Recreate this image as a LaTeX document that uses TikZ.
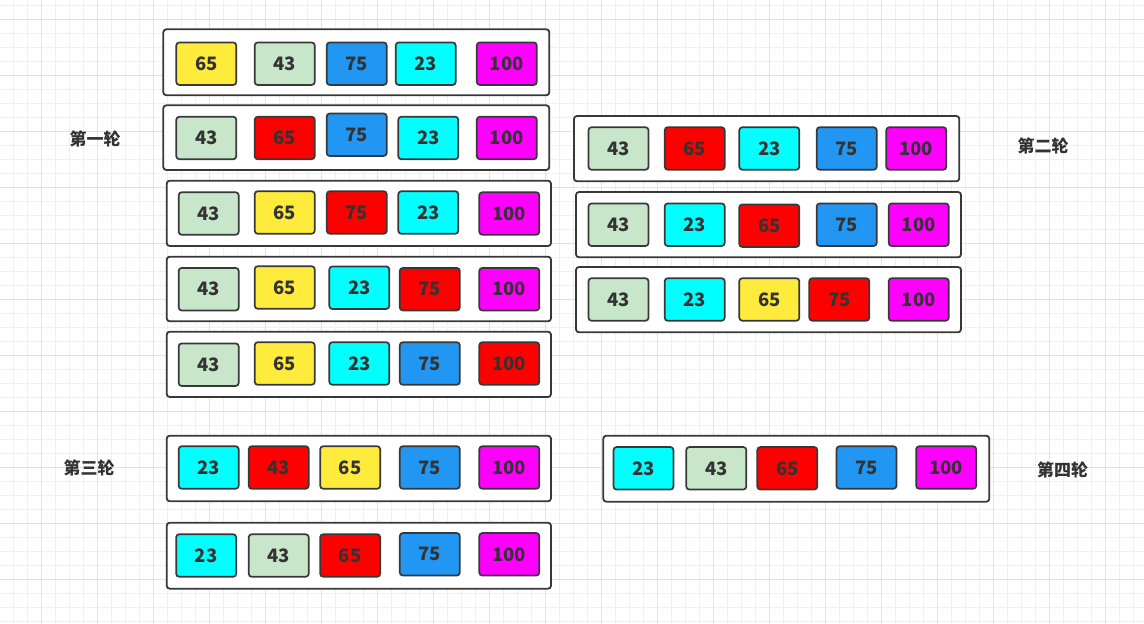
\documentclass[tikz,border=0pt]{standalone}
\usepackage{fontspec}
\setmainfont{Noto Sans CJK SC}
\usepackage{tikz}

\definecolor{cyel}{HTML}{FFEB3B}
\definecolor{cgreen}{HTML}{C8E6C9}
\definecolor{cblue}{HTML}{2196F3}
\definecolor{ccyan}{HTML}{00FFFF}
\definecolor{cmag}{HTML}{FF00FF}
\definecolor{cred}{HTML}{FF0000}
\definecolor{linec}{HTML}{383838}
\definecolor{textc}{HTML}{333333}
\definecolor{gridminor}{HTML}{F0F0F0}
\definecolor{gridmajor}{HTML}{E2E2E2}

\begin{document}
\begin{tikzpicture}[x=1pt, y=-1pt,
		cell/.style={draw=linec, line width=1.7pt, rounded corners=3pt, minimum width=60pt, minimum height=42.5pt, inner sep=0pt, text=textc, font=\fontsize{18.5}{18.5}\selectfont\bfseries},
		rowbox/.style={draw=linec, line width=1.8pt, fill=white, rounded corners=3pt},
		lbl/.style={text=textc, font=\fontsize{17}{17}\selectfont\bfseries}]
	\useasboundingbox (0,0) rectangle (1144,624);
	\fill[white] (0,0) rectangle (1144,624);
	% grid
	\foreach \i in {1,...,81}
		\draw[gridminor, line width=1pt] ({14*\i-0.3},0) -- ++(0,624);
	\foreach \i in {0,...,44}
		\draw[gridminor, line width=1pt] (0,{14*\i+5.3}) -- ++(1144,0);
	\foreach \i in {0,...,19}
		\draw[gridmajor, line width=1pt] ({56*\i+41.7},0) -- ++(0,624);
	\foreach \i in {0,...,10}
		\draw[gridmajor, line width=1pt] (0,{56*\i+19.3}) -- ++(1144,0);

	% first round
	\draw[rowbox] (163.3,29.3) rectangle (549.3,95.3);
	\draw[rowbox] (163.3,105.3) rectangle (549.3,170);
	\draw[rowbox] (166.7,180.7) rectangle (551,246);
	\draw[rowbox] (166.7,256.7) rectangle (551,321.3);
	\draw[rowbox] (166.7,331.7) rectangle (551,397);
	\foreach \x/\y/\c/\v [count=\k] in {206.3/63.7/cyel/65, 284.7/63.7/cgreen/43, 356.7/63.7/cblue/75, 425.7/63.7/ccyan/23, 506.8/63.7/cmag/100}
		\node[cell, fill=\c] (r1c\k) at (\x,\y) {\v};
	\foreach \x/\y/\c/\v [count=\k] in {206.3/138/cgreen/43, 284.7/138/cred/65, 356.7/134.7/cblue/75, 428.3/138/ccyan/23, 506.8/138/cmag/100}
		\node[cell, fill=\c] (r2c\k) at (\x,\y) {\v};
	\foreach \x/\y/\c/\v [count=\k] in {208.7/213.5/cgreen/43, 284.7/212.5/cyel/65, 356.8/212.5/cred/75, 428.3/212.5/ccyan/23, 509.3/213.5/cmag/100}
		\node[cell, fill=\c] (r3c\k) at (\x,\y) {\v};
	\foreach \x/\y/\c/\v [count=\k] in {208.7/289.2/cgreen/43, 284.7/287.5/cyel/65, 359.3/287.7/ccyan/23, 429.8/289.2/cred/75, 509.3/289.2/cmag/100}
		\node[cell, fill=\c] (r4c\k) at (\x,\y) {\v};
	\foreach \x/\y/\c/\v [count=\k] in {208.7/364.7/cgreen/43, 284.7/363.5/cyel/65, 359.3/363.5/ccyan/23, 429.8/363.5/cblue/75, 509.3/363.5/cred/100}
		\node[cell, fill=\c] (r5c\k) at (\x,\y) {\v};
	\node[lbl] (round1) at (95,139.3) {第一轮};

	% second round
	\draw[rowbox] (574,116) rectangle (959.3,181.3);
	\draw[rowbox] (576,192) rectangle (961,257.3);
	\draw[rowbox] (576,267) rectangle (961,332.3);
	\foreach \x/\y/\c/\v [count=\k] in {618.5/148.5/cgreen/43, 694.7/148.5/cred/65, 769.3/148.5/ccyan/23, 846.7/148.5/cblue/75, 916.3/148.5/cmag/100}
		\node[cell, fill=\c] (s1c\k) at (\x,\y) {\v};
	\foreach \x/\y/\c/\v [count=\k] in {618.5/224.7/cgreen/43, 694.7/224.7/ccyan/23, 769.3/225.7/cred/65, 846.7/224.7/cblue/75, 918.7/224.7/cmag/100}
		\node[cell, fill=\c] (s2c\k) at (\x,\y) {\v};
	\foreach \x/\y/\c/\v [count=\k] in {618.5/299.5/cgreen/43, 694.7/299.5/ccyan/23, 769.3/299.5/cyel/65, 839.3/299.5/cred/75, 918.7/299.5/cmag/100}
		\node[cell, fill=\c] (s3c\k) at (\x,\y) {\v};
	\node[lbl] (round2) at (1043,146) {第二轮};

	% third round
	\draw[rowbox] (166.7,435.7) rectangle (551,501.3);
	\draw[rowbox] (166.7,522.7) rectangle (551,588.7);
	\foreach \x/\y/\c/\v [count=\k] in {208.7/467.5/ccyan/23, 278.7/467.5/cred/43, 350.2/467.5/cyel/65, 429.8/467.5/cblue/75, 509.3/467.5/cmag/100}
		\node[cell, fill=\c] (t1c\k) at (\x,\y) {\v};
	\foreach \x/\y/\c/\v [count=\k] in {206.2/555.5/ccyan/23, 278.7/555.5/cgreen/43, 350.2/555.5/cred/65, 429.8/554.3/cblue/75, 509.3/554.3/cmag/100}
		\node[cell, fill=\c] (t2c\k) at (\x,\y) {\v};
	\node[lbl] (round3) at (89,468) {第三轮};

	% fourth round
	\draw[rowbox] (603.3,435.7) rectangle (989.3,501.7);
	\foreach \x/\y/\c/\v [count=\k] in {643.5/468.3/ccyan/23, 716.3/468.3/cgreen/43, 787.3/468.3/cred/65, 866.5/467.5/cblue/75, 946.2/467.5/cmag/100}
		\node[cell, fill=\c] (u1c\k) at (\x,\y) {\v};
	\node[lbl] (round4) at (1062.7,470) {第四轮};
\end{tikzpicture}
\end{document}
